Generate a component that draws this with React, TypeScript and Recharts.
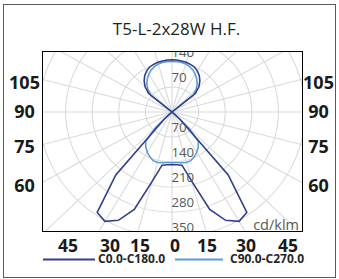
import React from 'react';
import { RadarChart, Radar, PolarGrid, PolarAngleAxis, PolarRadiusAxis } from 'recharts';

// angle from nadir (0 = straight down), every 5 degrees round the full circle
const angles = Array.from({ length: 72 }, (_, i) => i * 5);

// cd/klm
const c0c180 = [
  147, 148, 151, 200, 290, 334, 353, 343, 230, 30,
  0, 0, 0, 0, 0, 0, 0, 0, 0, 0, 0, 0, 0, 0, 0, 0,
  80, 100, 114, 125, 133, 139, 142, 144, 145, 146, 146,
  146, 145, 144, 142, 139, 133, 125, 114, 100, 80,
  0, 0, 0, 0, 0, 0, 0, 0, 0, 0, 0, 0, 0, 0, 0, 0,
  30, 230, 343, 353, 334, 290, 200, 151, 148,
];
const c90c270 = [
  141, 142, 144, 146, 145, 138, 130, 120, 108, 62, 10,
  0, 0, 0, 0, 0, 0, 0, 0, 0, 0, 0, 0, 0, 0, 0,
  72, 90, 103, 113, 122, 130, 135, 139, 141, 142, 142,
  142, 141, 139, 135, 130, 122, 113, 103, 90, 72,
  0, 0, 0, 0, 0, 0, 0, 0, 0, 0, 0, 0, 0, 0, 0,
  10, 62, 108, 120, 130, 138, 145, 146, 144, 142,
];

const radiusTicks = [70, 140, 210, 280, 350];
const sideTicks = ['105', '90', '75', '60'];
const bottomTicks = ['45', '30', '15', '0', '15', '30', '45'];
const title = 'T5-L-2x28W H.F.';
const seriesNames = ['C0.0-C180.0', 'C90.0-C270.0'];
const unit = 'cd/klm';

const data = angles.map((a, i) => ({ angle: a, c0: c0c180[i], c90: c90c270[i] }));

const DARK = '#323f8a';
const LIGHT = '#5b9bd5';
const GRID = '#d9d9d9';
const FONT = "'Open Sans', 'Noto Sans', sans-serif";

const SIZE = 380;
const C = SIZE / 2;
const OUTER = 186;
const RMAX = 520;
const STRETCH = 1.063; // the original is a bit wider than tall

const spokeAngles = Array.from({ length: 24 }, (_, i) => i * 15);
const gridRadii = radiusTicks.map((v) => (v / RMAX) * OUTER);

// label layout
const sideY = [83, 112, 146.5, 186];
const bottomX = [68, 110, 140, 175, 207, 246, 288];

const RadiusTick = ({ x, y, payload }: any) => {
  const upY = 2 * C - y;
  const common = {
    textAnchor: 'start' as const,
    dominantBaseline: 'central' as const,
    fill: '#595959',
    fontSize: 12.5,
    fontFamily: FONT,
  };
  return (
    <g>
      <text x={x - 0.5} y={y - 10} {...common}>{payload.value}</text>
      {/* only the first two show above the centre, the rest fall outside the box */}
      {payload.value <= 140 && <text x={x - 0.5} y={upY - 10} {...common}>{payload.value}</text>}
    </g>
  );
};

export default function App() {
  const sideFs = 18;
  const botFs = 17.5;
  return (
    <div style={{ position: 'absolute', left: 0, top: 0, width: 339, height: 279, background: '#fff', fontFamily: FONT }}>
      <div style={{ position: 'absolute', left: 3, top: 4, width: 333, height: 274, border: '1px solid #595959', boxSizing: 'border-box' }} />

      <div style={{ position: 'absolute', left: 42, top: 51, width: 261, height: 181, border: '1.5px solid #000', boxSizing: 'border-box', overflow: 'hidden' }}>
        <div style={{ position: 'absolute', left: 129 - C, top: 59.5 - C, width: SIZE, height: SIZE, transform: `scaleX(${STRETCH})`, transformOrigin: `${C}px ${C}px` }}>
          <RadarChart
            width={SIZE}
            height={SIZE}
            data={data}
            cx={C}
            cy={C}
            outerRadius={OUTER}
            startAngle={-90}
            endAngle={-450}
            margin={{ top: 0, right: 0, bottom: 0, left: 0 }}
          >
            <PolarGrid gridType="circle" polarAngles={spokeAngles} polarRadius={gridRadii} stroke={GRID} />
            <PolarAngleAxis dataKey="angle" tick={false} axisLine={false} tickLine={false} />
            <PolarRadiusAxis
              angle={-90}
              type="number"
              domain={[0, RMAX]}
              ticks={radiusTicks as any}
              tick={<RadiusTick />}
              axisLine={false}
              tickLine={false}
            />
            <Radar dataKey="c90" name={seriesNames[1]} stroke={LIGHT} strokeWidth={1.5} fill="none" fillOpacity={0} dot={false} isAnimationActive={false} />
            <Radar dataKey="c0" name={seriesNames[0]} stroke={DARK} strokeWidth={1.5} fill="none" fillOpacity={0} dot={false} isAnimationActive={false} />
          </RadarChart>
        </div>
      </div>

      <svg width={339} height={279} style={{ position: 'absolute', left: 0, top: 0, pointerEvents: 'none' }}>
        <text x={176.5} y={28.8 + 0.357 * 17} textAnchor="middle" fontSize={17} fill="#1f1f1f" fontFamily={FONT}>{title}</text>

        {sideTicks.map((t, i) => (
          <g key={'s' + i}>
            <text x={24.5} y={sideY[i] + 0.357 * sideFs} textAnchor="middle" fontSize={sideFs} fontWeight={700} fill="#1a1a1a" fontFamily={FONT}>{t}</text>
            <text x={318.5} y={sideY[i] + 0.357 * sideFs} textAnchor="middle" fontSize={sideFs} fontWeight={700} fill="#1a1a1a" fontFamily={FONT}>{t}</text>
          </g>
        ))}
        {bottomTicks.map((t, i) => (
          <text key={'b' + i} x={bottomX[i]} y={246 + 0.357 * botFs} textAnchor="middle" fontSize={botFs} fontWeight={700} fill="#1a1a1a" fontFamily={FONT}>{t}</text>
        ))}

        <text x={299} y={230} textAnchor="end" fontSize={14.5} fill="#595959" fontFamily={FONT}>{unit}</text>

        <line x1={43} y1={259.5} x2={95} y2={259.5} stroke={DARK} strokeWidth={2} />
        <text x={98} y={258.5 + 0.357 * 12} fontSize={12} fontWeight={700} fill="#262626" fontFamily={FONT}>{seriesNames[0]}</text>
        <line x1={175} y1={259.5} x2={223} y2={259.5} stroke={LIGHT} strokeWidth={2} />
        <text x={230} y={258.5 + 0.357 * 12} fontSize={12} fontWeight={700} fill="#262626" fontFamily={FONT}>{seriesNames[1]}</text>
      </svg>
    </div>
  );
}
